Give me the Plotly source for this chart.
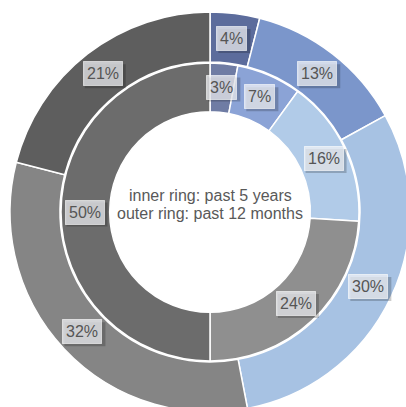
import math
import plotly.graph_objects as go

# ---- data ----
segments = ["A", "B", "C", "D", "E"]
outer_values = [4, 13, 30, 32, 21]   # past 12 months
inner_values = [3, 7, 16, 24, 50]    # past 5 years
outer_colors = ["#5c6c9c", "#7b96cb", "#a7c2e3", "#858585", "#5e5e5e"]
inner_colors = ["#6f7ca4", "#8ba3d6", "#b1cbe8", "#8f8f8f", "#6c6c6c"]
center_lines = ["inner ring: past 5 years", "outer ring: past 12 months"]

W, H = 420, 420
CX, CY = 210, 212          # centre in px (from top-left)
R_OUT, R_MID, R_HOLE = 200, 150, 101
FONT = "Liberation Sans, Arial, Helvetica"

def dom(r):
    return dict(x=[(CX - r) / W, (CX + r) / W],
                y=[(H - CY - r) / H, (H - CY + r) / H])

fig = go.Figure()
fig.add_trace(go.Pie(labels=segments, values=outer_values, sort=False,
                     direction="clockwise", rotation=0, hole=R_MID / R_OUT,
                     domain=dom(R_OUT), textinfo="none", hoverinfo="label+percent",
                     marker=dict(colors=outer_colors, line=dict(color="white", width=1.5)),
                     showlegend=False))
fig.add_trace(go.Pie(labels=segments, values=inner_values, sort=False,
                     direction="clockwise", rotation=0, hole=R_HOLE / R_MID,
                     domain=dom(R_MID - 1), textinfo="none", hoverinfo="label+percent",
                     marker=dict(colors=inner_colors, line=dict(color="white", width=1.5)),
                     showlegend=False))

annotations = []
shapes = []

def text_width(s, size=16):
    w = 0
    for ch in s:
        w += 0.889 * size if ch == "%" else 0.556 * size
    return w

def ring_labels(values, r):
    total = sum(values)
    cum = 0
    for v in values:
        mid = (cum + v / 2) / total
        cum += v
        ang = mid * 2 * math.pi
        px = CX + r * math.sin(ang)
        py = CY - r * math.cos(ang)
        txt = f"{round(v / total * 100)}%"
        # drop shadow (offset down-right)
        bw = text_width(txt) + 9
        bh = 24
        sx0, sx1 = px - bw / 2 + 2.5, px + bw / 2 + 2.5
        sy0, sy1 = py - bh / 2 + 2.5, py + bh / 2 + 2.5
        shapes.append(dict(type="rect", xref="paper", yref="paper",
                           x0=sx0 / W, x1=sx1 / W, y0=1 - sy1 / H, y1=1 - sy0 / H,
                           fillcolor="rgba(0,0,0,0.2)", line=dict(width=0), layer="above"))
        annotations.append(dict(x=px / W, y=1 - py / H, xref="paper", yref="paper", text=txt,
                                xanchor="center", yanchor="middle",
                                showarrow=False,
                                font=dict(size=16, color="#555555", family=FONT),
                                bgcolor="rgba(240,241,245,0.74)", bordercolor="rgba(255,255,255,0.6)",
                                borderwidth=1, borderpad=3))

ring_labels(outer_values, (R_OUT + R_MID) / 2)
ring_labels(inner_values, (R_MID + R_HOLE) / 2)

for i, line in enumerate(center_lines):
    annotations.append(dict(x=CX / W, y=1 - (195 + 18 * i) / H, xref="paper", yref="paper",
                            xanchor="center", yanchor="middle",
                            text=line, showarrow=False,
                            font=dict(size=16, color="#595959", family=FONT)))

fig.update_layout(width=W, height=H, margin=dict(l=0, r=0, t=0, b=0),
                  paper_bgcolor="white", plot_bgcolor="white",
                  annotations=annotations, shapes=shapes)

fig.write_html("out.html", config={"displayModeBar": False},
               post_script="document.body.style.margin='0';document.body.style.overflow='hidden';"
                           "document.documentElement.style.overflow='hidden';")
